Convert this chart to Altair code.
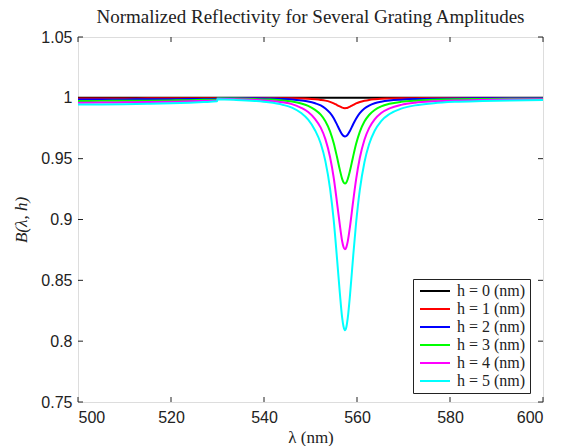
import altair as alt
import pandas as pd

# wavelength grid (nm)
wavelength = [500, 505, 510, 515, 520, 524, 527, 529.9,
              530, 534, 538, 541, 544, 546, 548, 549.5, 551, 552.2,
              553.2, 554.2, 555, 555.7, 556.3, 556.8, 557.1, 557.4, 557.7, 558,
              558.5, 559.1, 559.8, 560.6, 561.6, 562.6, 563.8, 565.2, 567, 569.5,
              572.5, 576.5, 581, 587, 593, 600]

B_h0 = [1.0, 1.0, 1.0, 1.0, 1.0, 1.0, 1.0, 1.0,
        1.0, 1.0, 1.0, 1.0, 1.0, 1.0, 1.0, 1.0, 1.0, 1.0,
        1.0, 1.0, 1.0, 1.0, 1.0, 1.0, 1.0, 1.0, 1.0, 1.0,
        1.0, 1.0, 1.0, 1.0, 1.0, 1.0, 1.0, 1.0, 1.0, 1.0,
        1.0, 1.0, 1.0, 1.0, 1.0, 1.0]

B_h1 = [0.9995, 0.9995, 0.9995, 0.9996, 0.9996, 0.9996, 0.9997, 0.9997,
        0.9999, 0.9999, 0.9999, 0.9998, 0.9997, 0.9996, 0.9994, 0.9992, 0.9988, 0.9983,
        0.9977, 0.9967, 0.9955, 0.9941, 0.9929, 0.9920, 0.9916, 0.9915, 0.9916, 0.9919,
        0.9928, 0.9940, 0.9954, 0.9966, 0.9976, 0.9983, 0.9988, 0.9992, 0.9994, 0.9996,
        0.9997, 0.9998, 0.9999, 0.9999, 0.9999, 0.9999]

B_h2 = [0.9986, 0.9986, 0.9987, 0.9988, 0.9989, 0.9990, 0.9991, 0.9993,
        0.9998, 0.9997, 0.9996, 0.9994, 0.9991, 0.9987, 0.9979, 0.9970, 0.9955, 0.9938,
        0.9913, 0.9876, 0.9832, 0.9780, 0.9733, 0.9699, 0.9687, 0.9682, 0.9686, 0.9698,
        0.9730, 0.9777, 0.9828, 0.9874, 0.9912, 0.9936, 0.9955, 0.9968, 0.9978, 0.9985,
        0.9990, 0.9993, 0.9995, 0.9996, 0.9997, 0.9997]

B_h3 = [0.9974, 0.9975, 0.9976, 0.9977, 0.9979, 0.9981, 0.9984, 0.9986,
        0.9996, 0.9994, 0.9990, 0.9986, 0.9979, 0.9970, 0.9954, 0.9934, 0.9901, 0.9862,
        0.9808, 0.9725, 0.9627, 0.9513, 0.9410, 0.9334, 0.9306, 0.9295, 0.9304, 0.9331,
        0.9402, 0.9506, 0.9620, 0.9720, 0.9805, 0.9859, 0.9900, 0.9930, 0.9951, 0.9967,
        0.9977, 0.9984, 0.9988, 0.9990, 0.9992, 0.9993]

B_h4 = [0.9960, 0.9961, 0.9963, 0.9965, 0.9968, 0.9971, 0.9975, 0.9979,
        0.9992, 0.9989, 0.9983, 0.9976, 0.9963, 0.9948, 0.9918, 0.9883, 0.9825, 0.9755,
        0.9661, 0.9514, 0.9341, 0.9139, 0.8957, 0.8823, 0.8774, 0.8755, 0.8771, 0.8818,
        0.8944, 0.9128, 0.9328, 0.9505, 0.9655, 0.9751, 0.9823, 0.9875, 0.9913, 0.9942,
        0.9960, 0.9971, 0.9978, 0.9983, 0.9986, 0.9988]

B_h5 = [0.9945, 0.9946, 0.9948, 0.9951, 0.9955, 0.9960, 0.9965, 0.9971,
        0.9988, 0.9983, 0.9974, 0.9963, 0.9943, 0.9920, 0.9875, 0.9820, 0.9732, 0.9625,
        0.9480, 0.9255, 0.8990, 0.8680, 0.8400, 0.8195, 0.8120, 0.8090, 0.8115, 0.8187,
        0.8380, 0.8662, 0.8969, 0.9241, 0.9471, 0.9618, 0.9729, 0.9809, 0.9867, 0.9911,
        0.9938, 0.9956, 0.9967, 0.9974, 0.9979, 0.9982]

series_labels = ["h = 0 (nm)", "h = 1 (nm)", "h = 2 (nm)",
                 "h = 3 (nm)", "h = 4 (nm)", "h = 5 (nm)"]
series_colors = ["#000000", "#ff0000", "#0000ff", "#00ff00", "#ff00ff", "#00ffff"]

x_ticks = [500, 520, 540, 560, 580, 600]
y_ticks = [0.75, 0.8, 0.85, 0.9, 0.95, 1.0, 1.05]

W, H = 465, 365

rows = []
for lab, vals in zip(series_labels, [B_h0, B_h1, B_h2, B_h3, B_h4, B_h5]):
    for w, b in zip(wavelength, vals):
        rows.append({"wavelength": w, "B": b, "series": lab})
df = pd.DataFrame(rows)

xscale = alt.Scale(domain=[500, 600], nice=False, zero=False)
yscale = alt.Scale(domain=[0.75, 1.05], nice=False, zero=False)

lines = alt.Chart(df).mark_line(strokeWidth=2, interpolate="monotone", clip=True).encode(
    x=alt.X("wavelength:Q", scale=xscale,
            axis=alt.Axis(values=x_ticks, title="λ (nm)", ticks=False, domain=False,
                          grid=False, labelFont="Liberation Sans", labelFontSize=16,
                          labelColor="#222222", labelPadding=7,
                          titleFont="Liberation Serif", titleFontSize=17,
                          titleFontWeight="normal", titleColor="#222222", titlePadding=4)),
    y=alt.Y("B:Q", scale=yscale,
            axis=alt.Axis(values=y_ticks, format="~g", title="B(λ, h)", ticks=False,
                          domain=False, grid=False, labelFont="Liberation Sans",
                          labelFontSize=16, labelColor="#222222", labelPadding=6,
                          titleFont="Liberation Serif", titleFontSize=17,
                          titleFontStyle="italic", titleFontWeight="normal",
                          titleColor="#222222", titlePadding=10)),
    color=alt.Color("series:N",
                    scale=alt.Scale(domain=series_labels, range=series_colors),
                    legend=alt.Legend(orient="none", legendX=335, legendY=242, title=None,
                                      symbolType="M-1,0H5", symbolSize=100,
                                      symbolStrokeWidth=2, labelFont="Liberation Serif",
                                      labelFontSize=16, labelColor="#222222",
                                      strokeColor="#222222", fillColor="white",
                                      padding=4, rowPadding=2, labelOffset=24,
                                      offset=0, cornerRadius=0)),
)

xt = pd.DataFrame({"wavelength": x_ticks})
yt = pd.DataFrame({"B": y_ticks})

tick_col = "#222222"
xb = alt.Chart(xt).mark_rule(color=tick_col, strokeWidth=1).encode(
    x=alt.X("wavelength:Q", scale=xscale), y=alt.value(H), y2=alt.value(H - 5))
xtp = alt.Chart(xt).mark_rule(color=tick_col, strokeWidth=1).encode(
    x=alt.X("wavelength:Q", scale=xscale), y=alt.value(0), y2=alt.value(5))
yl = alt.Chart(yt).mark_rule(color=tick_col, strokeWidth=1).encode(
    y=alt.Y("B:Q", scale=yscale), x=alt.value(0), x2=alt.value(5))
yr = alt.Chart(yt).mark_rule(color=tick_col, strokeWidth=1).encode(
    y=alt.Y("B:Q", scale=yscale), x=alt.value(W), x2=alt.value(W - 5))

chart = alt.layer(xb, xtp, yl, yr, lines).properties(
    width=W, height=H,
    title=alt.TitleParams("Normalized Reflectivity for Several Grating Amplitudes",
                          font="Liberation Serif", fontSize=19, fontWeight="normal",
                          color="#222222", anchor="middle", offset=2),
    autosize=alt.AutoSizeParams(type="none"),
    padding={"left": 78, "top": 37, "right": 25, "bottom": 44},
).configure_view(stroke="#222222", strokeWidth=1).configure(background="white")

chart.save("out.html", embed_options={"renderer": "svg", "actions": False})
